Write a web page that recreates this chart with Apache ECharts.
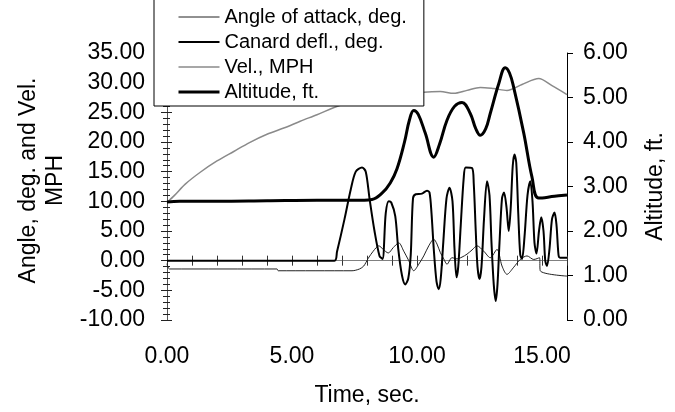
<!DOCTYPE html>
<html>
<head>
<meta charset="utf-8">
<script src="https://cdn.jsdelivr.net/npm/echarts@6/dist/echarts.min.js"></script>
<style>
  html, body { margin: 0; padding: 0; background: #fff; }
  #chart { width: 675px; height: 412px; }
</style>
</head>
<body>
<div id="chart"></div>
<script>
// time axis ticks (sec.)
const timeTicks = [0, 5, 10, 15];

// Angle of attack, deg.
const aoaTime = [0, 0.1, 4.4, 4.45, 7.4, 7.7, 7.87, 8.05, 8.25, 8.47, 8.65, 8.85, 9.05, 9.27, 9.47, 9.67, 9.87, 10.07, 10.27, 10.47, 10.67, 10.8, 10.93, 11.07, 11.2, 11.4, 11.6, 11.8, 12, 12.2, 12.4, 12.67, 12.93, 13.2, 13.4, 13.6, 13.87, 14.13, 14.4, 14.67, 14.9, 14.93, 16];
const aoaValues = [-0.5, -1.4, -1.4, -1.7, -1.7, -1.4, -0.9, 0.4, 1.6, 2.5, 1.9, 1.3, 2.2, 3.0, 1.6, 0, -1.7, -0.6, 0.8, 2.5, 3.6, 2.8, 1.4, 0.3, -0.6, 0.5, 0.3, 0.6, 1.1, 1.8, 2.5, 1.6, 0.5, 1.9, -0.9, -2.3, -1.1, 0.2, 0.8, 0.2, 0.5, -1.7, -2.6];

// Canard defl., deg.
const canardTime = [0, 6.7, 6.8, 7.1, 7.35, 7.55, 7.8, 7.95, 8.1, 8.3, 8.5, 8.62, 8.75, 8.87, 8.97, 9.13, 9.25, 9.4, 9.53, 9.65, 9.75, 9.84, 9.95, 10.2, 10.4, 10.5, 10.58, 10.67, 10.78, 10.87, 10.95, 11.05, 11.18, 11.3, 11.42, 11.5, 11.58, 11.65, 11.75, 11.87, 11.95, 12.2, 12.27, 12.35, 12.42, 12.5, 12.58, 12.68, 12.8, 12.9, 12.98, 13.07, 13.15, 13.22, 13.3, 13.4, 13.48, 13.58, 13.67, 13.75, 13.83, 13.9, 13.97, 14.05, 14.13, 14.2, 14.3, 14.42, 14.53, 14.62, 14.7, 14.78, 14.88, 14.97, 15.06, 15.13, 15.2, 15.3, 15.4, 15.5, 15.58, 15.66, 15.72, 16];
const canardValues = [0, 0, 1.5, 7, 12, 15, 15.7, 15, 10.5, 5, 0.8, 0.3, 8, 10, 9.8, 7.5, 2, -2.5, -4, -3, 1, 10.5, 11.2, 11.3, 11.8, 11.5, 8, 2, -3.5, -4.8, -3, 3, 10.5, 12.3, 10, 2, -2.8, -1, 6, 14, 15.7, 15.6, 13, 5, -1, -3.1, -1, 7, 13.4, 11, 3, -4, -6.8, -4, 3, 10.5, 11.5, 9, 5, 9, 16, 17.9, 16.5, 8, 1, 0.3, 4, 11, 13.4, 10, 3, 1.2, 5, 7.3, 5, 0, -0.9, 2, 7, 8.1, 6, 1, 0.5, 0.5];

// Vel., MPH
const velTime = [0, 0.3, 0.73, 1.33, 2, 2.67, 3.3, 4, 4.7, 5.33, 6, 6.93, 8, 9, 10.27, 10.93, 11.47, 12, 12.53, 13.07, 13.6, 14.2, 14.87, 15.4, 16];
const velValues = [9.8, 11, 12.9, 14.9, 16.8, 18.4, 19.9, 21.3, 22.4, 23.5, 24.6, 26.2, 27.2, 27.9, 28.4, 28.5, 28.2, 28.7, 29.2, 29.0, 28.7, 29.7, 30.7, 29.5, 28.0];

// Altitude, ft.
const altTime = [0, 0.5, 2, 4, 6, 7.5, 8.2, 8.6, 8.93, 9.2, 9.5, 9.7, 9.87, 10.05, 10.33, 10.67, 10.9, 11.2, 11.5, 11.8, 12.13, 12.35, 12.53, 12.75, 12.93, 13.27, 13.53, 13.7, 13.87, 14.27, 14.6, 14.87, 15.5, 16];
const altValues = [2.65, 2.67, 2.67, 2.68, 2.69, 2.69, 2.71, 2.85, 3.08, 3.4, 4.0, 4.5, 4.71, 4.62, 4.2, 3.66, 3.95, 4.49, 4.8, 4.89, 4.64, 4.3, 4.15, 4.3, 4.64, 5.31, 5.67, 5.55, 5.22, 4.2, 3.21, 2.74, 2.78, 2.81];

const pairs = (ts, vs) => ts.map((t, i) => [t, vs[i]]);

const font = 'Arial, "Liberation Sans", sans-serif';
const chart = echarts.init(document.getElementById('chart'), null, { renderer: 'canvas' });

const leftScale = { type: 'value', min: -10, max: 35, interval: 5 };

chart.setOption({
  backgroundColor: '#fff',
  animation: false,
  textStyle: { fontFamily: font, color: '#000' },
  grid: { left: 167, right: 108, top: 53, bottom: 91 },
  legend: {
    orient: 'vertical',
    left: 154,
    top: -5,
    padding: [12, 17, 4, 23],
    itemWidth: 41,
    itemHeight: 14,
    itemGap: 5,
    backgroundColor: '#fff',
    borderColor: '#000',
    borderWidth: 1,
    itemStyle: { opacity: 0 },
    lineStyle: { width: 'inherit' },
    textStyle: { fontFamily: font, fontSize: 20, color: '#000' },
    data: ['Angle of attack, deg.', 'Canard defl., deg.', 'Vel., MPH', 'Altitude, ft.'],
  },
  xAxis: [
    {
      // labels + name at the bottom
      type: 'value',
      min: 0,
      max: 16,
      interval: 5,
      position: 'bottom',
      axisLine: { show: false, onZero: false },
      axisTick: { show: false },
      splitLine: { show: false },
      axisLabel: {
        margin: 25,
        fontSize: 23,
        color: '#000',
        fontFamily: font,
        formatter: (v) => (timeTicks.includes(v) ? v.toFixed(2) : ''),
      },
      name: 'Time, sec.',
      nameLocation: 'middle',
      nameGap: 64,
      nameTextStyle: { fontSize: 23, color: '#000', fontFamily: font },
    },
    {
      // zero line, ticks upward
      type: 'value',
      min: 0,
      max: 16,
      interval: 1,
      position: 'top',
      axisLine: { show: true, onZero: true, onZeroAxisIndex: 0, lineStyle: { color: '#808080', width: 1 } },
      axisTick: { show: true, length: 5, lineStyle: { color: '#333' } },
      axisLabel: { show: false },
      splitLine: { show: false },
    },
    {
      // zero line, ticks downward
      type: 'value',
      min: 0,
      max: 16,
      interval: 1,
      position: 'bottom',
      axisLine: { show: false, onZero: true, onZeroAxisIndex: 0 },
      axisTick: { show: true, length: 5, lineStyle: { color: '#333' } },
      axisLabel: { show: false },
      splitLine: { show: false },
    },
  ],
  yAxis: [
    {
      ...leftScale,
      position: 'left',
      axisLine: { show: true, onZero: false, lineStyle: { color: '#555', width: 1 } },
      axisTick: { show: true, length: 6, lineStyle: { color: '#222' } },
      minorTick: { show: true, splitNumber: 5, length: 4, lineStyle: { color: '#222' } },
      splitLine: { show: false },
      axisLabel: {
        margin: 22,
        fontSize: 23,
        color: '#000',
        fontFamily: font,
        formatter: (v) => v.toFixed(2),
      },
      name: 'Angle, deg. and Vel.\nMPH',
      nameLocation: 'middle',
      nameRotate: 90,
      nameGap: 97,
      nameTextStyle: { fontSize: 23, lineHeight: 27, color: '#000', fontFamily: font, padding: [0, 0, 0, 12] },
    },
    {
      type: 'value',
      min: 0,
      max: 6,
      interval: 1,
      position: 'right',
      axisLine: { show: true, onZero: false, lineStyle: { color: '#000', width: 1 } },
      axisTick: { show: true, length: 6, lineStyle: { color: '#000' } },
      splitLine: { show: false },
      axisLabel: {
        margin: 16,
        fontSize: 23,
        color: '#000',
        fontFamily: font,
        formatter: (v) => v.toFixed(2),
      },
      name: 'Altitude, ft.',
      nameLocation: 'middle',
      nameRotate: 90,
      nameGap: 77,
      nameTextStyle: { fontSize: 23, color: '#000', fontFamily: font },
    },
    {
      // inside ticks of the left axis
      ...leftScale,
      position: 'left',
      offset: 0,
      axisLine: { show: false, onZero: false },
      axisTick: { show: true, inside: true, length: 5, lineStyle: { color: '#222' } },
      minorTick: { show: true, splitNumber: 5, length: 3, lineStyle: { color: '#222' } },
      splitLine: { show: false },
      axisLabel: { show: false },
    },
  ],
  series: [
    {
      name: 'Angle of attack, deg.',
      type: 'line',
      data: pairs(aoaTime, aoaValues),
      yAxisIndex: 0,
      symbol: 'none',
      smooth: 0.3,
      lineStyle: { color: '#222', width: 1 },
      itemStyle: { color: '#222' },
      z: 3,
    },
    {
      name: 'Canard defl., deg.',
      type: 'line',
      data: pairs(canardTime, canardValues),
      yAxisIndex: 0,
      symbol: 'none',
      smooth: 0.3,
      lineStyle: { color: '#000', width: 2 },
      itemStyle: { color: '#000' },
      z: 4,
    },
    {
      name: 'Vel., MPH',
      type: 'line',
      data: pairs(velTime, velValues),
      yAxisIndex: 0,
      symbol: 'none',
      smooth: 0.3,
      lineStyle: { color: '#8a8a8a', width: 1.5 },
      itemStyle: { color: '#8a8a8a' },
      z: 3,
    },
    {
      name: 'Altitude, ft.',
      type: 'line',
      data: pairs(altTime, altValues),
      yAxisIndex: 1,
      symbol: 'none',
      smooth: 0.4,
      lineStyle: { color: '#000', width: 3 },
      itemStyle: { color: '#000' },
      z: 5,
    },
  ],
});
</script>
</body>
</html>
